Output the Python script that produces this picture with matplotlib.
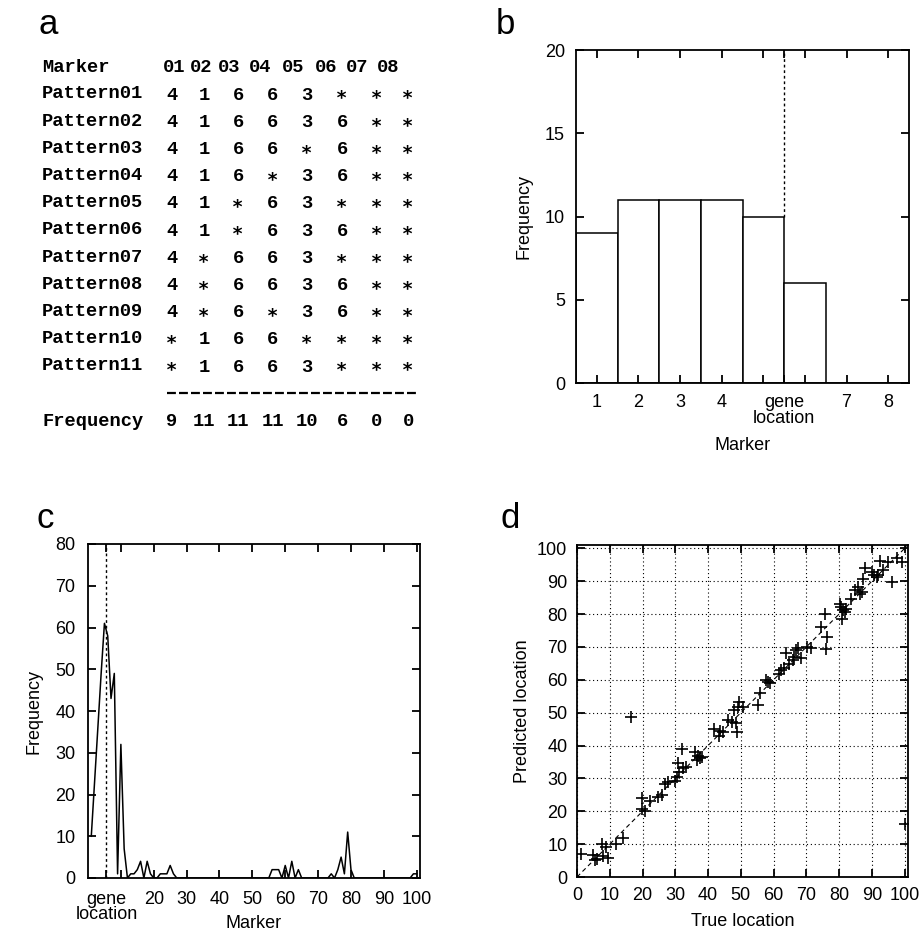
import numpy as np
import matplotlib
matplotlib.use("Agg")
import matplotlib.pyplot as plt
from matplotlib.lines import Line2D

plt.rcParams["font.family"] = ["Liberation Sans", "DejaVu Sans"]

# ---- panel a: marker patterns table ----
marker_cols = ["01", "02", "03", "04", "05", "06", "07", "08"]
pattern_names = ["Pattern%02d" % i for i in range(1, 12)]
patterns = [
    ["4", "1", "6", "6", "3", "*", "*", "*"],
    ["4", "1", "6", "6", "3", "6", "*", "*"],
    ["4", "1", "6", "6", "*", "6", "*", "*"],
    ["4", "1", "6", "*", "3", "6", "*", "*"],
    ["4", "1", "*", "6", "3", "*", "*", "*"],
    ["4", "1", "*", "6", "3", "6", "*", "*"],
    ["4", "*", "6", "6", "3", "*", "*", "*"],
    ["4", "*", "6", "6", "3", "6", "*", "*"],
    ["4", "*", "6", "*", "3", "6", "*", "*"],
    ["*", "1", "6", "6", "*", "*", "*", "*"],
    ["*", "1", "6", "6", "3", "*", "*", "*"],
]
table_freq = ["9", "11", "11", "11", "10", "6", "0", "0"]

# ---- panel b: histogram over 8 markers ----
b_markers = [1, 2, 3, 4, 5, 6, 7, 8]
b_freq = [9, 11, 11, 11, 10, 6, 0, 0]
b_gene = 5.5

# ---- panel c: frequency over 100 markers ----
c_marker = list(range(1, 101))
c_freq = [10, 23, 36, 49, 61, 58, 43, 49, 1, 32,
          7, 0, 1, 1, 2, 4, 0, 4, 1, 0,
          0, 1, 1, 1, 3, 1, 0, 0, 0, 0,
          0, 0, 0, 0, 0, 0, 0, 0, 0, 0,
          0, 0, 0, 0, 0, 0, 0, 0, 0, 0,
          0, 0, 0, 0, 0, 2, 2, 2, 0, 3,
          0, 4, 0, 2, 0, 0, 0, 0, 0, 0,
          0, 0, 0, 1, 0, 2, 5, 1, 11, 2,
          0, 0, 0, 0, 0, 0, 0, 0, 0, 0,
          0, 0, 0, 0, 0, 0, 0, 0, 1, 1]
c_gene = 5.6

# ---- panel d: true vs predicted location ----
true_loc = [1.2, 4.9, 5.6, 6.1, 7.7, 9.0, 9.4, 8.0, 12.0, 14.0,
            16.6, 19.8, 19.8, 20.6, 22.4, 24.8, 25.8, 27.0, 27.8, 30.0,
            30.6, 31.1, 30.8, 31.9, 32.4, 33.2, 36.0, 36.6, 37.0, 37.6,
            38.0, 41.8, 43.2, 43.5, 44.4, 46.0, 47.4, 48.4, 48.9, 48.0,
            49.2, 49.5, 50.5, 55.1, 55.9, 57.7, 58.4, 59.0, 61.7, 62.2,
            63.1, 63.8, 64.8, 65.8, 66.3, 66.8, 67.3, 68.4, 70.1, 71.4,
            74.5, 75.8, 76.4, 76.0, 80.2, 80.7, 81.2, 81.7, 81.0, 82.2,
            83.7, 84.8, 85.8, 86.3, 87.1, 87.3, 87.9, 89.9, 90.7, 91.4,
            91.9, 93.5, 96.0, 92.4, 94.9, 97.6, 99.1, 100.2]
pred_loc = [7.0, 6.6, 5.1, 5.6, 9.9, 9.0, 5.8, 6.5, 10.0, 12.0,
            48.8, 24.0, 20.6, 20.2, 23.0, 24.2, 24.8, 28.2, 28.8, 29.2,
            30.5, 32.0, 34.6, 39.0, 33.2, 33.4, 38.0, 35.5, 36.8, 36.3,
            36.6, 44.9, 42.8, 44.4, 44.2, 47.7, 47.3, 47.0, 44.1, 50.7,
            51.8, 53.1, 51.7, 52.2, 56.0, 59.9, 59.2, 58.9, 61.9, 63.0,
            63.5, 68.1, 64.7, 66.0, 67.0, 69.1, 69.6, 66.5, 70.0, 69.6,
            76.1, 80.0, 73.1, 69.4, 83.2, 82.1, 81.1, 80.6, 78.6, 81.6,
            84.7, 87.2, 88.3, 86.2, 86.7, 90.8, 93.9, 92.9, 91.8, 91.3,
            92.0, 93.4, 89.8, 96.1, 95.7, 96.9, 95.9, 16.2]

W, H = 919, 932


def fx(px):
    return px / W


def fy(py):
    return 1 - py / H


fig = plt.figure(figsize=(W / 100, H / 100), dpi=100)
mono = ["Liberation Mono", "DejaVu Sans Mono"]
TS = 13.5
TW = "bold"
FS = 13

# panel a, drawn as text
label_x = 42
head_x = [174, 201, 229, 260, 293, 326, 357, 388]
col_x = [172, 204, 238, 273, 307, 342, 377, 408]
fig.text(fx(label_x), fy(68), "Marker", family=mono, size=TS, weight=TW,
         va="center")
for hx, h in zip(head_x, marker_cols):
    fig.text(fx(hx), fy(68), h, family=mono, size=TS, weight=TW,
             va="center", ha="center")
for i, (name, row) in enumerate(zip(pattern_names, patterns)):
    y = 94 + 27.2 * i
    fig.text(fx(label_x), fy(y), name, family=mono, size=TS, weight=TW,
             va="center")
    for cx, v in zip(col_x, row):
        v = "\u2217" if v == "*" else v
        fig.text(fx(cx), fy(y + 1), v, family=mono, size=TS, weight=TW,
                 va="center", ha="center")
fig.add_artist(Line2D([fx(167), fx(417)], [fy(393), fy(393)],
                      transform=fig.transFigure, color="black", lw=1.6,
                      dashes=(4, 1.4)))
fig.text(fx(label_x), fy(421), "Frequency", family=mono, size=TS, weight=TW,
         va="center")
for cx, v in zip(col_x, table_freq):
    fig.text(fx(cx), fy(421), v, family=mono, size=TS, weight=TW,
             va="center", ha="center")


def style_axes(ax, pad=7):
    for s in ax.spines.values():
        s.set_linewidth(1.3)
    ax.tick_params(direction="in", top=True, right=True, length=6,
                   width=1.3, labelsize=FS, pad=pad)


# panel b
axb = fig.add_axes([fx(576), fy(383), 333 / W, 333 / H])
axb.bar(b_markers, b_freq, width=1, color="white", edgecolor="black", lw=1.1)
axb.vlines(b_gene, b_freq[4], 20, colors="black", lw=1,
           linestyles=(0, (2, 2)))
axb.set_xlim(0.5, 8.5)
axb.set_ylim(0, 20)
axb.set_xticks([1, 2, 3, 4, 5, b_gene, 6, 7, 8])
axb.set_xticklabels(["1", "2", "3", "4", "", "gene\nlocation", "", "7", "8"],
                    linespacing=0.9)
axb.set_yticks([0, 5, 10, 15, 20])
style_axes(axb, pad=8)
axb.set_xlabel("Marker", fontsize=FS, labelpad=7)
axb.set_ylabel("Frequency", fontsize=FS, labelpad=9)

# panel c
axc = fig.add_axes([fx(88), fy(878), 332 / W, 334 / H])
axc.plot(c_marker, c_freq, color="black", lw=1.1)
axc.axvline(c_gene, color="black", lw=1, ls=(0, (2, 2)))
axc.set_xlim(0, 101)
axc.set_ylim(0, 80)
xt = [c_gene] + list(range(10, 101, 10))
axc.set_xticks(xt)
axc.set_xticklabels(["gene\nlocation", ""] + [str(v) for v in range(20, 101, 10)],
                    linespacing=0.85)
axc.set_yticks(range(0, 81, 10))
style_axes(axc, pad=9)
axc.set_xlabel("Marker", fontsize=FS)
axc.xaxis.set_label_coords(0.5, -0.112)
axc.set_ylabel("Frequency", fontsize=FS, labelpad=9)

# panel d
axd = fig.add_axes([fx(577), fy(877), 331 / W, 332 / H])
axd.grid(True, ls=(0, (1, 2.5)), color="black", lw=0.8)
axd.plot([0, 101], [0, 101], color="black", lw=0.8, ls=(0, (4, 3)))
axd.plot(true_loc, pred_loc, "k+", ms=9, mew=1.2)
axd.set_xlim(0, 101)
axd.set_ylim(0, 101)
axd.set_xticks(range(0, 101, 10))
axd.set_yticks(range(0, 101, 10))
axd.set_axisbelow(True)
style_axes(axd)
axd.set_xlabel("True location", fontsize=FS, labelpad=7)
axd.set_ylabel("Predicted location", fontsize=FS, labelpad=4)

# panel letters
for ch, x, y in [("a", 48, 25), ("b", 505, 25), ("c", 45, 519), ("d", 510, 519)]:
    fig.text(fx(x), fy(y), ch, fontsize=25, ha="center", va="center")

fig.savefig("out.png", dpi=100)
